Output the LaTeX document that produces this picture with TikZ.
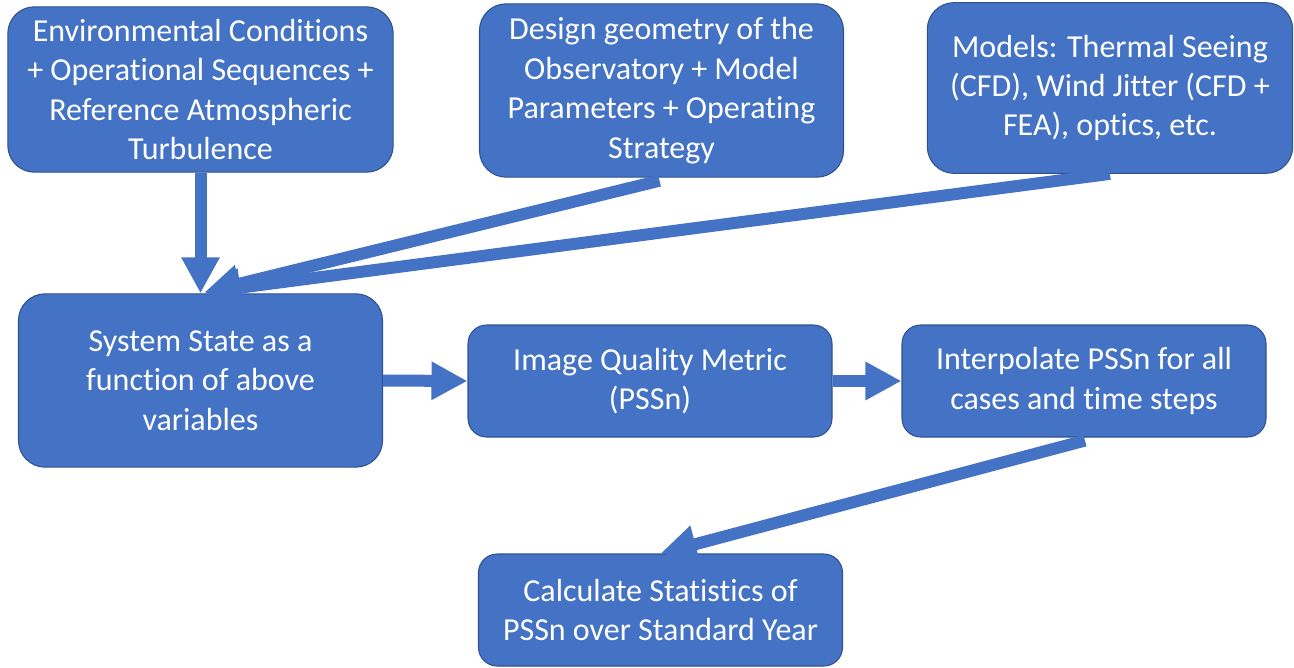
\documentclass[tikz,border=0pt]{standalone}
\usepackage{fontspec}
\setmainfont{Carlito}[Ligatures=NoCommon]
\usetikzlibrary{arrows.meta,calc,positioning}
\definecolor{boxfill}{HTML}{4472C4}
\definecolor{boxline}{HTML}{2F528F}
\tikzset{flow/.style={-{Triangle[length=27pt, width=27pt]}, draw=boxfill, line width=9pt},
  blk/.style={draw=boxline, fill=boxfill, line width=0.8pt, text=white, rounded corners=20pt,
    minimum width=273pt, minimum height=124pt, inner sep=0pt, align=center,
    font=\fontsize{24}{29.6}\selectfont},
  lowblk/.style={blk, minimum height=84pt, rounded corners=14pt}}

\begin{document}
\begin{tikzpicture}[x=0.75pt, y=-0.75pt]
  \useasboundingbox (0,0) rectangle (1294,667);
  % inputs
  \node[blk, minimum width=289pt] (env) at (200.5,89.5) {Environmental Conditions\\+ Operational Sequences +\\Reference Atmospheric\\Turbulence};
  \node[blk, minimum height=130pt] (geom) at (661.5,90.5) {Design geometry of the\\Observatory + Model\\Parameters + Operating\\Strategy};
  \node[blk, minimum width=274pt, minimum height=128pt] (models) at (1110,88) {Models: Thermal Seeing\\(CFD), Wind Jitter (CFD +\\FEA), optics, etc.};
  % processing chain
  \node[blk, minimum height=130pt] (state) at (200.5,380.5) {System State as a\\function of above\\variables};
  \node[lowblk] (iq) at (650,381) {Image Quality Metric\\(PSSn)};
  \node[lowblk] (interp) at (1084,381) {Interpolate PSSn for all\\cases and time steps};
  \node[lowblk] (stats) at (660.5,610) {Calculate Statistics of\\PSSn over Standard Year};
  % arrows
  \coordinate (hit) at ($(state.north)+(4,-1)$);
  \draw[flow] (env.south) -- (state.north);
  \draw[flow] ($(geom.south)+(-2,3)$) -- (hit);
  \draw[flow] (models.south) -- (hit);
  \draw[flow] (state.east) -- (iq.west);
  \draw[flow] (iq.east) -- (interp.west);
  \draw[flow] ($(interp.south)+(1,3)$) -- (stats.north);
\end{tikzpicture}
\end{document}
